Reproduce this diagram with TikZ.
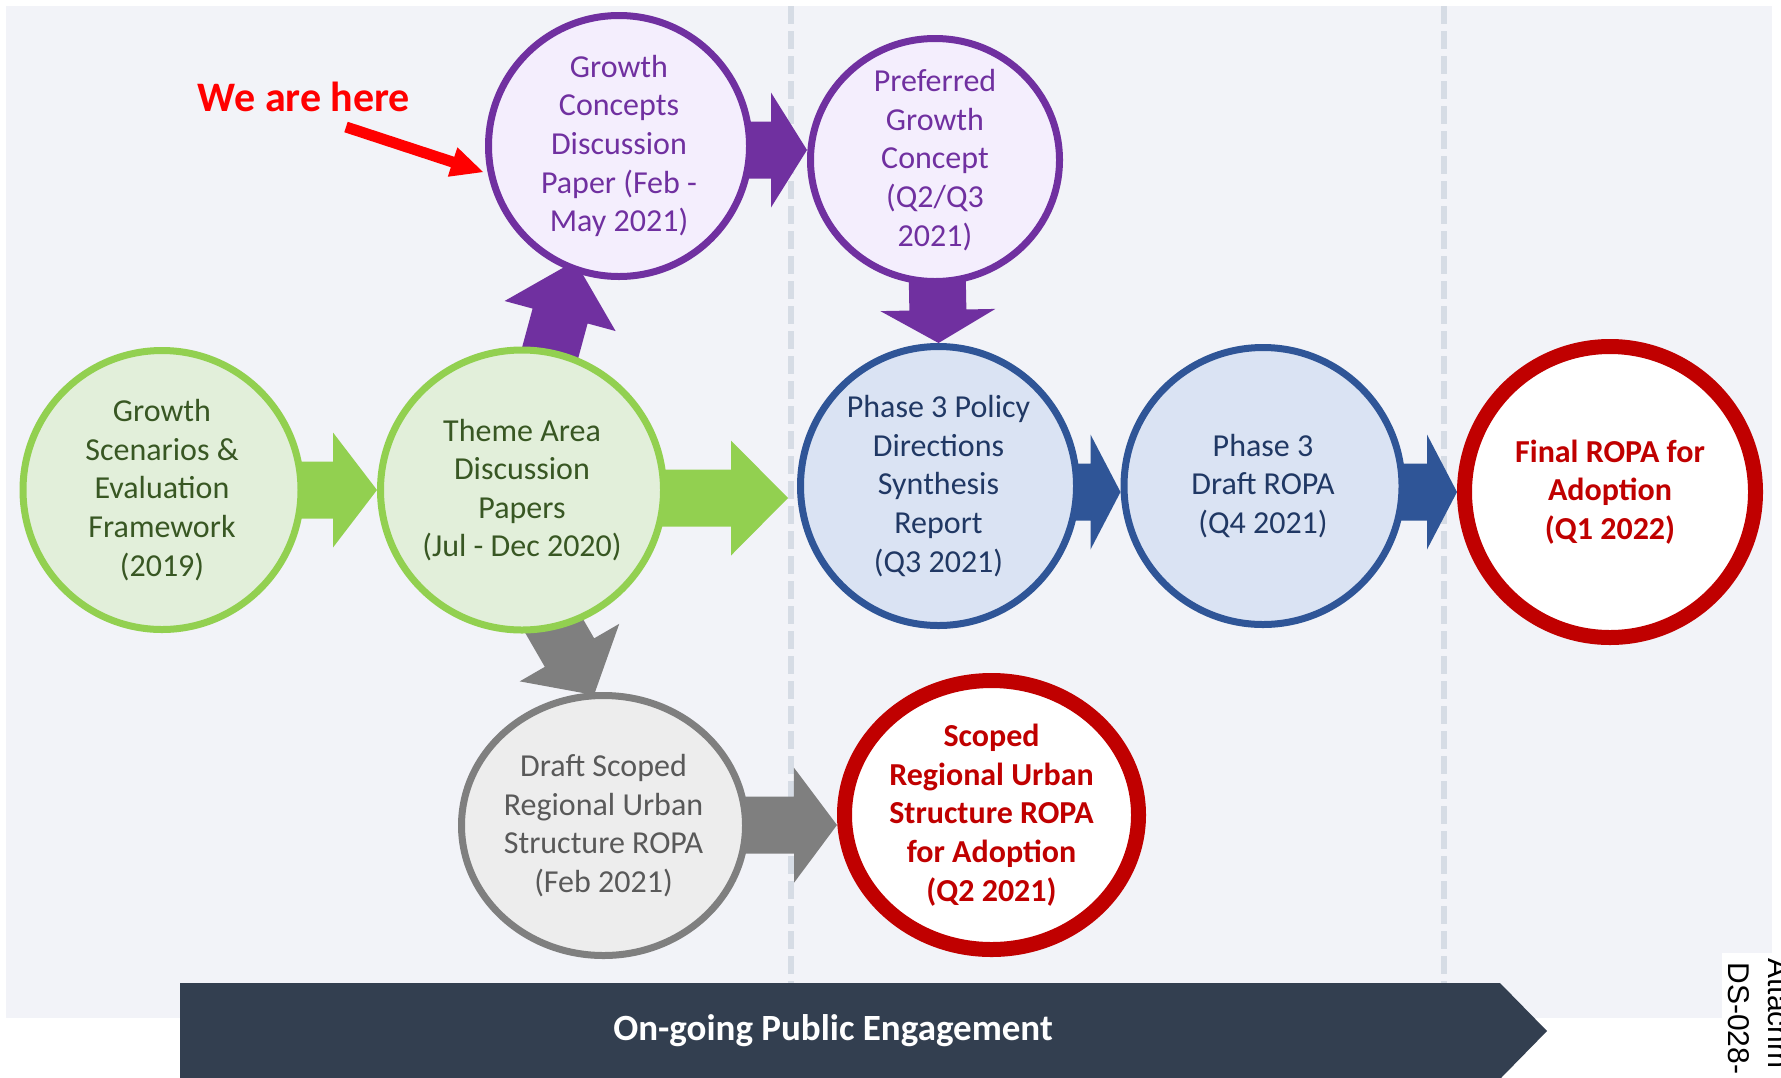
\documentclass[tikz,border=0pt]{standalone}
\usepackage{fontspec}
\setmainfont{Carlito}
\newfontfamily\attfont{Liberation Sans}
\usepackage{tikz}
\usetikzlibrary{positioning,calc,shapes.geometric}

\definecolor{panelbg}{HTML}{F2F3F8}
\definecolor{sepcol}{HTML}{D6DCE5}
\definecolor{gline}{HTML}{92D050}
\definecolor{gfill}{HTML}{E2EFDA}
\definecolor{gtext}{HTML}{385723}
\definecolor{pline}{HTML}{7030A0}
\definecolor{pfill}{HTML}{F4EEFD}
\definecolor{bline}{HTML}{2F5597}
\definecolor{bfill}{HTML}{DAE3F3}
\definecolor{btext}{HTML}{203864}
\definecolor{gyline}{HTML}{7F7F7F}
\definecolor{gyfill}{HTML}{EDEDED}
\definecolor{gytext}{HTML}{595959}
\definecolor{rline}{HTML}{C00000}
\definecolor{bannercol}{HTML}{333F50}

\pgfdeclarelayer{bg}
\pgfdeclarelayer{arw}
\pgfsetlayers{bg,arw,main}

%% block arrow from #2 to #3 with head length #4
\newcommand{\blockarrow}[4]{%
	\coordinate (ah) at ($(#3)!#4!(#2)$);
	\fill[#1] ($(#2)!\shaftw!90:(#3)$) -- ($(ah)!\shaftw!90:(#3)$)
		-- ($(ah)!\headw!90:(#3)$) -- (#3) -- ($(ah)!\headw!-90:(#3)$)
		-- ($(ah)!\shaftw!-90:(#3)$) -- ($(#2)!\shaftw!-90:(#3)$) -- cycle;}

\begin{document}
\begin{tikzpicture}[x=0.5pt,y=-0.5pt]
	\tikzset{stage/.style={ellipse,line width=3.5pt,align=center,inner sep=-15pt,
			font=\fontsize{16}{19.3}\selectfont},
		gstage/.style={stage,draw=gline,fill=gfill,text=gtext},
		pstage/.style={stage,draw=pline,fill=pfill,text=pline},
		bstage/.style={stage,draw=bline,fill=bfill,text=btext},
		gystage/.style={stage,draw=gyline,fill=gyfill,text=gytext},
		rstage/.style={stage,draw=rline,line width=7.5pt,fill=white,text=rline,
			font=\fontsize{16}{19.3}\selectfont\bfseries},
		sepline/.style={sepcol,line width=3.25pt,dash pattern=on 9pt off 3.5pt}}
	\useasboundingbox (0,0) rectangle (1781,1077);

	%% panel and separators
	\begin{pgfonlayer}{bg}
		\fill[white] (0,0) rectangle (1781,1077);
		\fill[panelbg] (6,6) rectangle (1772,1018);
		\draw[sepline] (791,6) -- (791,983);
		\draw[sepline] (1444,6) -- (1444,983);
	\end{pgfonlayer}

	%% stages
	\node[gstage,minimum width=139pt,minimum height=139.5pt] (gse) at (162,490)
		{Growth\\Scenarios \&\\Evaluation\\Framework\\(2019)};
	\node[gstage,minimum width=141.5pt,minimum height=140pt] (tad) at (522,490)
		{Theme Area\\Discussion\\Papers\\(Jul - Dec 2020)};
	\node[pstage,minimum width=130.5pt,minimum height=130.5pt] (gcd) at (619,146)
		{Growth\\Concepts\\Discussion\\Paper (Feb -\\May 2021)};
	\node[pstage,minimum width=124.5pt,minimum height=121.5pt] (pgc) at (935,160)
		{Preferred\\Growth\\Concept\\(Q2/Q3\\2021)};
	\node[bstage,minimum width=138pt,minimum height=139.5pt] (pds) at (938.5,486)
		{Phase 3 Policy\\Directions\\Synthesis\\Report\\(Q3 2021)};
	\node[bstage,minimum width=139pt,minimum height=138.5pt] (pdr) at (1263,486)
		{Phase 3\\Draft ROPA\\(Q4 2021)};
	\node[rstage,minimum width=145.5pt,minimum height=145.5pt] (fra) at (1610,492)
		{Final ROPA for\\Adoption\\(Q1 2022)};
	\node[gystage,minimum width=142pt,minimum height=130pt] (dsr) at (603.5,825.5)
		{Draft Scoped\\Regional Urban\\Structure ROPA\\(Feb 2021)};
	\node[rstage,minimum width=147pt,minimum height=134.5pt] (srs) at (991.5,815)
		{Scoped\\Regional Urban\\Structure ROPA\\for Adoption\\(Q2 2021)};

	\node[text=red,font=\fontsize{21}{25}\selectfont\bfseries] (here) at (304,97) {We are here};

	%% arrow ends
	\coordinate (a2s) at ($(tad.center)+(0,8)$);
	\coordinate (a2e) at ($(pds.west)+(-9,12)$);
	\coordinate (a3s) at (507,512);
	\coordinate (a3e) at (575,261);
	\coordinate (a4s) at ($(gcd.center)+(0,4)$);
	\coordinate (a4e) at ($(pgc.west)+(0,-10)$);
	\coordinate (a6s) at ($(pds.center)+(0,6)$);
	\coordinate (a6e) at ($(pdr.west)+(0,6)$);
	\coordinate (a7s) at ($(pdr.center)+(0,6)$);
	\coordinate (a8s) at (494,522);
	\coordinate (a8e) at (594,695);
	\coordinate (a9e) at ($(srs.west)+(0,10)$);
	\coordinate (hs) at (346,127);
	\coordinate (he) at (483,172);

	%% block arrows
	\begin{pgfonlayer}{arw}
		\edef\shaftw{14.25pt}
		\edef\headw{28.75pt}
		\blockarrow{gline}{gse.center}{tad.west}{22pt}
		\blockarrow{gline}{a2s}{a2e}{28.5pt}
		\blockarrow{pline}{a3s}{a3e}{28.5pt}
		\blockarrow{pline}{a4s}{a4e}{18pt}
		\blockarrow{pline}{pgc.center}{pds.north}{16.5pt}
		\blockarrow{bline}{a6s}{a6e}{15pt}
		\blockarrow{bline}{a7s}{fra.west}{15pt}
		\blockarrow{gyline}{a8s}{a8e}{24.5pt}
		\blockarrow{gyline}{dsr.center}{a9e}{21.5pt}
		\edef\shaftw{2.75pt}
		\edef\headw{7.75pt}
		\blockarrow{red}{hs}{he}{16pt}
	\end{pgfonlayer}

	%% public engagement banner
	\fill[bannercol] (180,983) -- (1500,983) -- (1547,1031) -- (1500,1079) -- (180,1079) -- cycle;
	\node[text=white,font=\fontsize{18.5}{22}\selectfont\bfseries] (engage) at (833,1031)
		{On-going Public Engagement};

	%% attachment stamp
	\fill[white] (1722,953) rectangle (1781,1077);
	\node[rotate=-90,anchor=base west,inner sep=0pt,font=\attfont\fontsize{15}{20}\selectfont] (attline) at (1768,958) {Attachm};
	\node[rotate=-90,anchor=base west,inner sep=0pt,font=\attfont\fontsize{15}{20}\selectfont] (dsline) at (1728,962) {DS-028-};
\end{tikzpicture}
\end{document}
